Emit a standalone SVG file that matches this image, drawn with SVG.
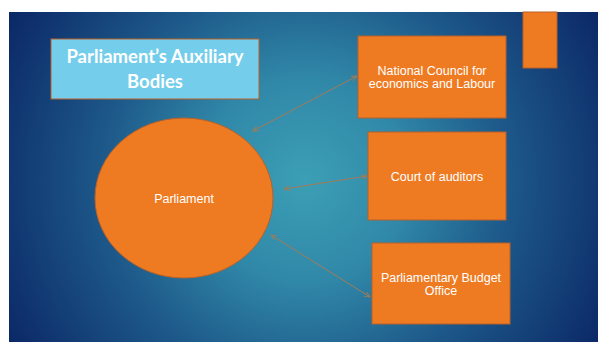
<svg xmlns="http://www.w3.org/2000/svg" width="598" height="342" viewBox="0 0 598 342">
  <defs>
    <radialGradient id="bg" cx="305" cy="180" r="340" gradientUnits="userSpaceOnUse">
      <stop offset="0" stop-color="#3c9fb5"/>
      <stop offset="0.3" stop-color="#3088a8"/>
      <stop offset="0.6" stop-color="#1d5889"/>
      <stop offset="1" stop-color="#0b2766"/>
    </radialGradient>
    <marker id="ah" viewBox="0 0 10 10" refX="9" refY="5" markerWidth="7" markerHeight="7" orient="auto-start-reverse" markerUnits="userSpaceOnUse">
      <path d="M1,1.5 L9,5 L1,8.5" fill="none" stroke="#a47a57" stroke-width="1.3"/>
    </marker>
  </defs>
  <style>
    .box { fill: #ee7b22; stroke: #b8612a; stroke-width: 1; }
    .lbl { fill: #ffffff; font-family: "Liberation Sans", Arial, sans-serif; font-size: 12.5px; text-anchor: middle; }
    .ttl { fill: #ffffff; font-family: Lato, "Liberation Sans", sans-serif; font-weight: bold; font-size: 18.5px; text-anchor: middle; }
    .conn { stroke: #a47a57; stroke-width: 1; fill: none; marker-start: url(#ah); marker-end: url(#ah); }
  </style>

  <rect x="0" y="0" width="598" height="342" fill="#ffffff"/>
  <rect x="9" y="12" width="589" height="330" fill="url(#bg)"/>

  <g id="title">
    <rect x="51" y="39" width="208" height="60" fill="#74cdea" stroke="#b8612a" stroke-width="1"/>
    <text class="ttl" x="155" y="63">Parliament’s Auxiliary</text>
    <text class="ttl" x="155" y="88">Bodies</text>
  </g>

  <g id="corner-tab">
    <rect class="box" x="523" y="12" width="34" height="56"/>
  </g>

  <g id="parliament">
    <ellipse class="box" cx="184" cy="198" rx="89" ry="80"/>
    <text class="lbl" x="184" y="203" font-size="12">Parliament</text>
  </g>

  <g id="national-council">
    <rect class="box" x="358" y="36" width="148" height="82"/>
    <text class="lbl" x="432" y="75">National Council for</text>
    <text class="lbl" x="432" y="88">economics and Labour</text>
  </g>

  <g id="court-of-auditors">
    <rect class="box" x="368" y="132" width="138" height="88"/>
    <text class="lbl" x="437" y="181">Court of auditors</text>
  </g>

  <g id="budget-office">
    <rect class="box" x="372" y="243" width="138" height="81"/>
    <text class="lbl" x="441" y="282">Parliamentary Budget</text>
    <text class="lbl" x="441" y="295">Office</text>
  </g>

  <g id="connectors">
    <line class="conn" x1="253" y1="131" x2="357" y2="76"/>
    <line class="conn" x1="284" y1="189" x2="367" y2="176"/>
    <line class="conn" x1="271" y1="235" x2="370" y2="297"/>
  </g>
</svg>
